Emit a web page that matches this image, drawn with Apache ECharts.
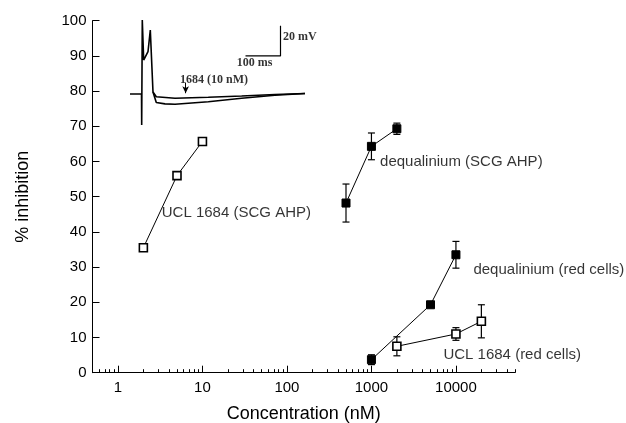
<!DOCTYPE html>
<html>
<head>
<meta charset="utf-8">
<script src="https://cdn.jsdelivr.net/npm/echarts@6/dist/echarts.min.js"></script>
<style>
html, body { margin: 0; padding: 0; background: #fff; }
#chart { width: 626px; height: 423px; }
</style>
</head>
<body>
<div id="chart"></div>
<script>
// % inhibition against concentration (nM), mean and error
var uclScgConc = [2, 5, 10];
var uclScgInhib = [35.5, 56, 65.7];
var uclScgErr = [0.7, 0.9, 0.6];

var deqScgConc = [500, 1000, 2000];
var deqScgInhib = [48.2, 64.3, 69.3];
var deqScgErr = [5.4, 3.8, 1.6];

var deqRedConc = [1000, 5000, 10000];
var deqRedInhib = [3.7, 19.3, 33.5];
var deqRedErr = [1.4, 0.6, 3.8];

var uclRedConc = [2000, 10000, 20000];
var uclRedInhib = [7.5, 11.0, 14.6];
var uclRedErr = [2.7, 1.8, 4.7];

var majorTicks = [1, 10, 100, 1000, 10000];
var minorTicks = [0.6, 0.7, 0.8, 0.9,
  2, 3, 4, 5, 6, 7, 8, 9,
  20, 30, 40, 50, 60, 70, 80, 90,
  200, 300, 400, 500, 600, 700, 800, 900,
  2000, 3000, 4000, 5000, 6000, 7000, 8000, 9000,
  20000, 30000, 40000, 50000];

// curve labels: [conc, inhibition, text]
var curveLabels = [
  [3.3, 45.4, 'UCL 1684 (SCG AHP)'],
  [1265, 59.8, 'dequalinium (SCG AHP)'],
  [16100, 29.2, 'dequalinium (red cells)'],
  [7110, 5.2, 'UCL 1684 (red cells)']
];

// inset: membrane potential traces, [time ms, mV]
var traceSpike = [[0, -60.5], [32.9, -60.5], [33.4, -81], [35.1, -11.7], [39.1, -38.1],
  [51.4, -32.6], [58, -18.3], [65.7, -59.2]];
var traceControl = [[75.1, -66.1], [100, -67], [128.6, -67.3], [223.7, -65.6], [319, -63.3], [414, -61.3], [500, -60.2]];
var trace1684 = [[75.1, -62.3], [128.6, -63.3], [223.7, -62.7], [319, -61.8], [414, -60.8], [500, -60.2]];
var scaleBar = [[330, -35.4], [430, -35.4], [430, -15.4]];
var insetLabels = [
  [437, -22.7, '20 mV', 'left'],
  [356, -40.2, '100 ms', 'center'],
  [143, -51.3, '1684 (10 nM)', 'left']
];
var arrowFrom = [159, -53];
var arrowTo = [159, -60];

function pairs(xs, ys) {
  return xs.map(function (x, i) { return [x, ys[i]]; });
}

function errorBars(xs, ys, errs) {
  return {
    type: 'custom',
    xAxisIndex: 0,
    yAxisIndex: 0,
    silent: true,
    z: 2,
    data: xs.map(function (x, i) { return [x, ys[i] - errs[i], ys[i] + errs[i]]; }),
    renderItem: function (params, api) {
      var lo = api.coord([api.value(0), api.value(1)]);
      var hi = api.coord([api.value(0), api.value(2)]);
      var w = 3.5;
      var st = { stroke: '#000', lineWidth: 1.2 };
      return {
        type: 'group',
        children: [
          { type: 'line', shape: { x1: hi[0], y1: hi[1], x2: lo[0], y2: lo[1] }, style: st },
          { type: 'line', shape: { x1: hi[0] - w, y1: hi[1], x2: hi[0] + w, y2: hi[1] }, style: st },
          { type: 'line', shape: { x1: lo[0] - w, y1: lo[1], x2: lo[0] + w, y2: lo[1] }, style: st }
        ]
      };
    }
  };
}

function curve(xs, ys, filled) {
  return {
    type: 'line',
    xAxisIndex: 0,
    yAxisIndex: 0,
    data: pairs(xs, ys),
    symbol: 'rect',
    symbolSize: 8,
    z: 3,
    lineStyle: { color: '#000', width: 1 },
    itemStyle: filled
      ? { color: '#000', borderColor: '#000', borderWidth: 1 }
      : { color: '#fff', borderColor: '#000', borderWidth: 1.6 },
    animation: false
  };
}

function insetTrace(data) {
  return {
    type: 'line',
    xAxisIndex: 2,
    yAxisIndex: 1,
    data: data,
    symbol: 'none',
    smooth: false,
    lineStyle: { color: '#000', width: 1.6 },
    z: 4
  };
}

var chart = echarts.init(document.getElementById('chart'));
chart.setOption({
  animation: false,
  backgroundColor: '#fff',
  textStyle: { fontFamily: 'Liberation Sans', color: '#000' },
  grid: [
    { left: 92.5, top: 20.7, width: 422.5, height: 352, outerBoundsMode: 'none', containLabel: false },
    { left: 130, top: 17.5, width: 175, height: 113.6, outerBoundsMode: 'none', containLabel: false }
  ],
  xAxis: [
    {
      type: 'log', gridIndex: 0, position: 'bottom', min: 0.5, max: 50000,
      name: 'Concentration (nM)', nameLocation: 'middle', nameGap: 32,
      nameTextStyle: { fontSize: 18, color: '#000', fontFamily: 'Liberation Sans' },
      axisLine: { onZero: false, lineStyle: { color: '#000', width: 1 } },
      axisTick: { inside: true, length: 7, customValues: majorTicks, lineStyle: { color: '#000', width: 1 } },
      axisLabel: {
        customValues: majorTicks, margin: 8, fontSize: 15, color: '#000',
        fontFamily: 'Liberation Sans',
        formatter: function (v) { return String(Math.round(v)); }
      },
      splitLine: { show: false }
    },
    {
      type: 'log', gridIndex: 0, position: 'bottom', min: 0.5, max: 50000,
      axisLine: { show: false, onZero: false },
      axisTick: { inside: true, length: 3.5, customValues: minorTicks, lineStyle: { color: '#000', width: 1 } },
      axisLabel: { show: false },
      splitLine: { show: false }
    },
    {
      type: 'value', gridIndex: 1, min: 0, max: 500, show: false
    }
  ],
  yAxis: [
    {
      type: 'value', gridIndex: 0, min: 0, max: 100, interval: 10,
      name: '% inhibition', nameLocation: 'middle', nameGap: 60,
      nameTextStyle: { fontSize: 18, color: '#000', fontFamily: 'Liberation Sans' },
      axisLine: { show: true, lineStyle: { color: '#000', width: 1 } },
      axisTick: { show: true, inside: true, length: 7, lineStyle: { color: '#000', width: 1 } },
      axisLabel: { margin: 6, fontSize: 15, color: '#000', fontFamily: 'Liberation Sans' },
      splitLine: { show: false }
    },
    {
      type: 'value', gridIndex: 1, min: -85, max: -10, show: false
    }
  ],
  series: [
    errorBars(uclScgConc, uclScgInhib, uclScgErr),
    errorBars(deqScgConc, deqScgInhib, deqScgErr),
    errorBars(deqRedConc, deqRedInhib, deqRedErr),
    errorBars(uclRedConc, uclRedInhib, uclRedErr),
    curve(uclScgConc, uclScgInhib, false),
    curve(deqScgConc, deqScgInhib, true),
    curve(deqRedConc, deqRedInhib, true),
    curve(uclRedConc, uclRedInhib, false),
    {
      type: 'scatter',
      xAxisIndex: 0,
      yAxisIndex: 0,
      symbolSize: 0,
      silent: true,
      data: curveLabels.map(function (d) { return { value: [d[0], d[1]], name: d[2] }; }),
      label: {
        show: true, position: 'right', distance: 0,
        formatter: '{b}', fontSize: 15, color: '#000', fontFamily: 'Liberation Sans'
      }
    },
    insetTrace(traceSpike.concat(traceControl)),
    insetTrace(traceSpike.slice(traceSpike.length - 1).concat(trace1684)),
    {
      type: 'line',
      xAxisIndex: 2,
      yAxisIndex: 1,
      data: scaleBar,
      symbol: 'none',
      lineStyle: { color: '#000', width: 1.2 },
      markLine: {
        silent: true,
        symbol: ['none', 'arrow'],
        symbolSize: [5, 7],
        label: { show: false },
        lineStyle: { color: '#000', width: 1, type: 'solid' },
        data: [[{ coord: arrowFrom }, { coord: arrowTo }]]
      }
    },
    {
      type: 'scatter',
      xAxisIndex: 2,
      yAxisIndex: 1,
      symbolSize: 0,
      silent: true,
      data: insetLabels.map(function (d) {
        return {
          value: [d[0], d[1]], name: d[2],
          label: { position: d[3] === 'left' ? 'right' : 'inside', align: d[3] === 'left' ? 'left' : 'center' }
        };
      }),
      label: {
        show: true, distance: 0, formatter: '{b}', fontSize: 12, fontWeight: 'bold',
        color: '#000', fontFamily: 'Liberation Serif'
      }
    }
  ]
});
</script>
</body>
</html>
